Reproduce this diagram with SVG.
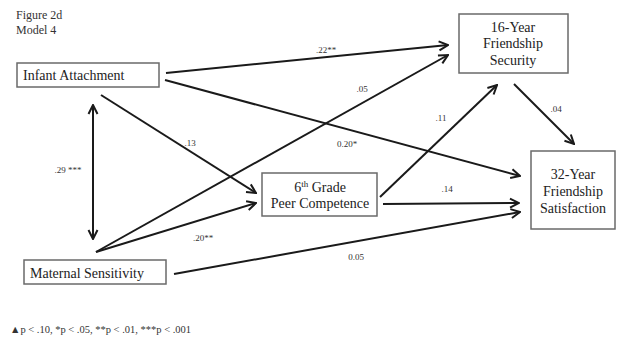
<svg xmlns="http://www.w3.org/2000/svg" width="617" height="339" viewBox="0 0 617 339">
<style>
.box{fill:#fff;stroke:#6a6a6a;stroke-width:1.5}
.t{font-family:"Liberation Serif","Times New Roman",serif;font-size:14px;fill:#222}
.c{text-anchor:middle}
.l{font-family:"Liberation Serif","Times New Roman",serif;font-size:9px;fill:#333}
.e{fill:none;stroke:#1a1a1a;stroke-width:2}
</style>
<defs>
<marker id="ah" markerUnits="userSpaceOnUse" markerWidth="12" markerHeight="12" refX="10" refY="5" orient="auto-start-reverse" viewBox="-1 -1 12 12">
<path d="M1,0.5 L10,5 L1,9.5" fill="none" stroke="#1a1a1a" stroke-width="2"/>
</marker>
</defs>
<rect width="617" height="339" fill="#fff"/>
<text class="l" x="16" y="19" style="font-size:12px">Figure 2d</text>
<text class="l" x="16" y="34" style="font-size:12px">Model 4</text>

<g id="connectors">
<line class="e" x1="93" y1="105" x2="93" y2="239" marker-start="url(#ah)" marker-end="url(#ah)"/>
<line class="e" x1="166" y1="73" x2="448" y2="45" marker-end="url(#ah)"/>
<line class="e" x1="165" y1="80" x2="520" y2="176" marker-end="url(#ah)"/>
<line class="e" x1="101" y1="95" x2="256" y2="193" marker-end="url(#ah)"/>
<line class="e" x1="96" y1="252" x2="448" y2="55" marker-end="url(#ah)"/>
<line class="e" x1="96" y1="252" x2="256" y2="203" marker-end="url(#ah)"/>
<line class="e" x1="174" y1="274" x2="520" y2="212" marker-end="url(#ah)"/>
<line class="e" x1="383" y1="204" x2="519" y2="203" marker-end="url(#ah)"/>
<line class="e" x1="380" y1="197" x2="497" y2="85" marker-end="url(#ah)"/>
<line class="e" x1="514" y1="84" x2="574" y2="144" marker-end="url(#ah)"/>
<text class="l c" x="326" y="53">.22**</text>
<text class="l c" x="347" y="147">0.20*</text>
<text class="l c" x="190" y="146">.13</text>
<text class="l c" x="362" y="92">.05</text>
<text class="l c" x="203" y="241">.20**</text>
<text class="l c" x="356" y="260">0.05</text>
<text class="l c" x="447" y="192">.14</text>
<text class="l c" x="441" y="121">.11</text>
<text class="l c" x="556" y="112">.04</text>
<text class="l c" x="68" y="173">.29 ***</text>
</g>

<g id="infant">
<rect class="box" x="17" y="63" width="142" height="24"/>
<text class="t" x="23" y="80">Infant Attachment</text>
</g>
<g id="maternal">
<rect class="box" x="24" y="260" width="142" height="24"/>
<text class="t" x="30" y="278">Maternal Sensitivity</text>
</g>
<g id="peer">
<rect class="box" x="262" y="173" width="115" height="43"/>
<text class="t c" x="320" y="192">6<tspan dy="-5" font-size="9px">th</tspan><tspan dy="5"> Grade</tspan></text>
<text class="t c" x="320" y="208">Peer Competence</text>
</g>
<g id="sec16">
<rect class="box" x="459" y="14" width="109" height="59"/>
<text class="t c" x="513" y="32">16-Year</text>
<text class="t c" x="513" y="48">Friendship</text>
<text class="t c" x="513" y="65">Security</text>
</g>
<g id="sat32">
<rect class="box" x="531" y="151" width="84" height="78"/>
<text class="t c" x="573" y="179">32-Year</text>
<text class="t c" x="573" y="196">Friendship</text>
<text class="t c" x="573" y="213">Satisfaction</text>
</g>
<text class="l" x="10" y="333" style="font-size:10.5px">▲p &lt; .10, *p &lt; .05, **p &lt; .01, ***p &lt; .001</text>
</svg>
